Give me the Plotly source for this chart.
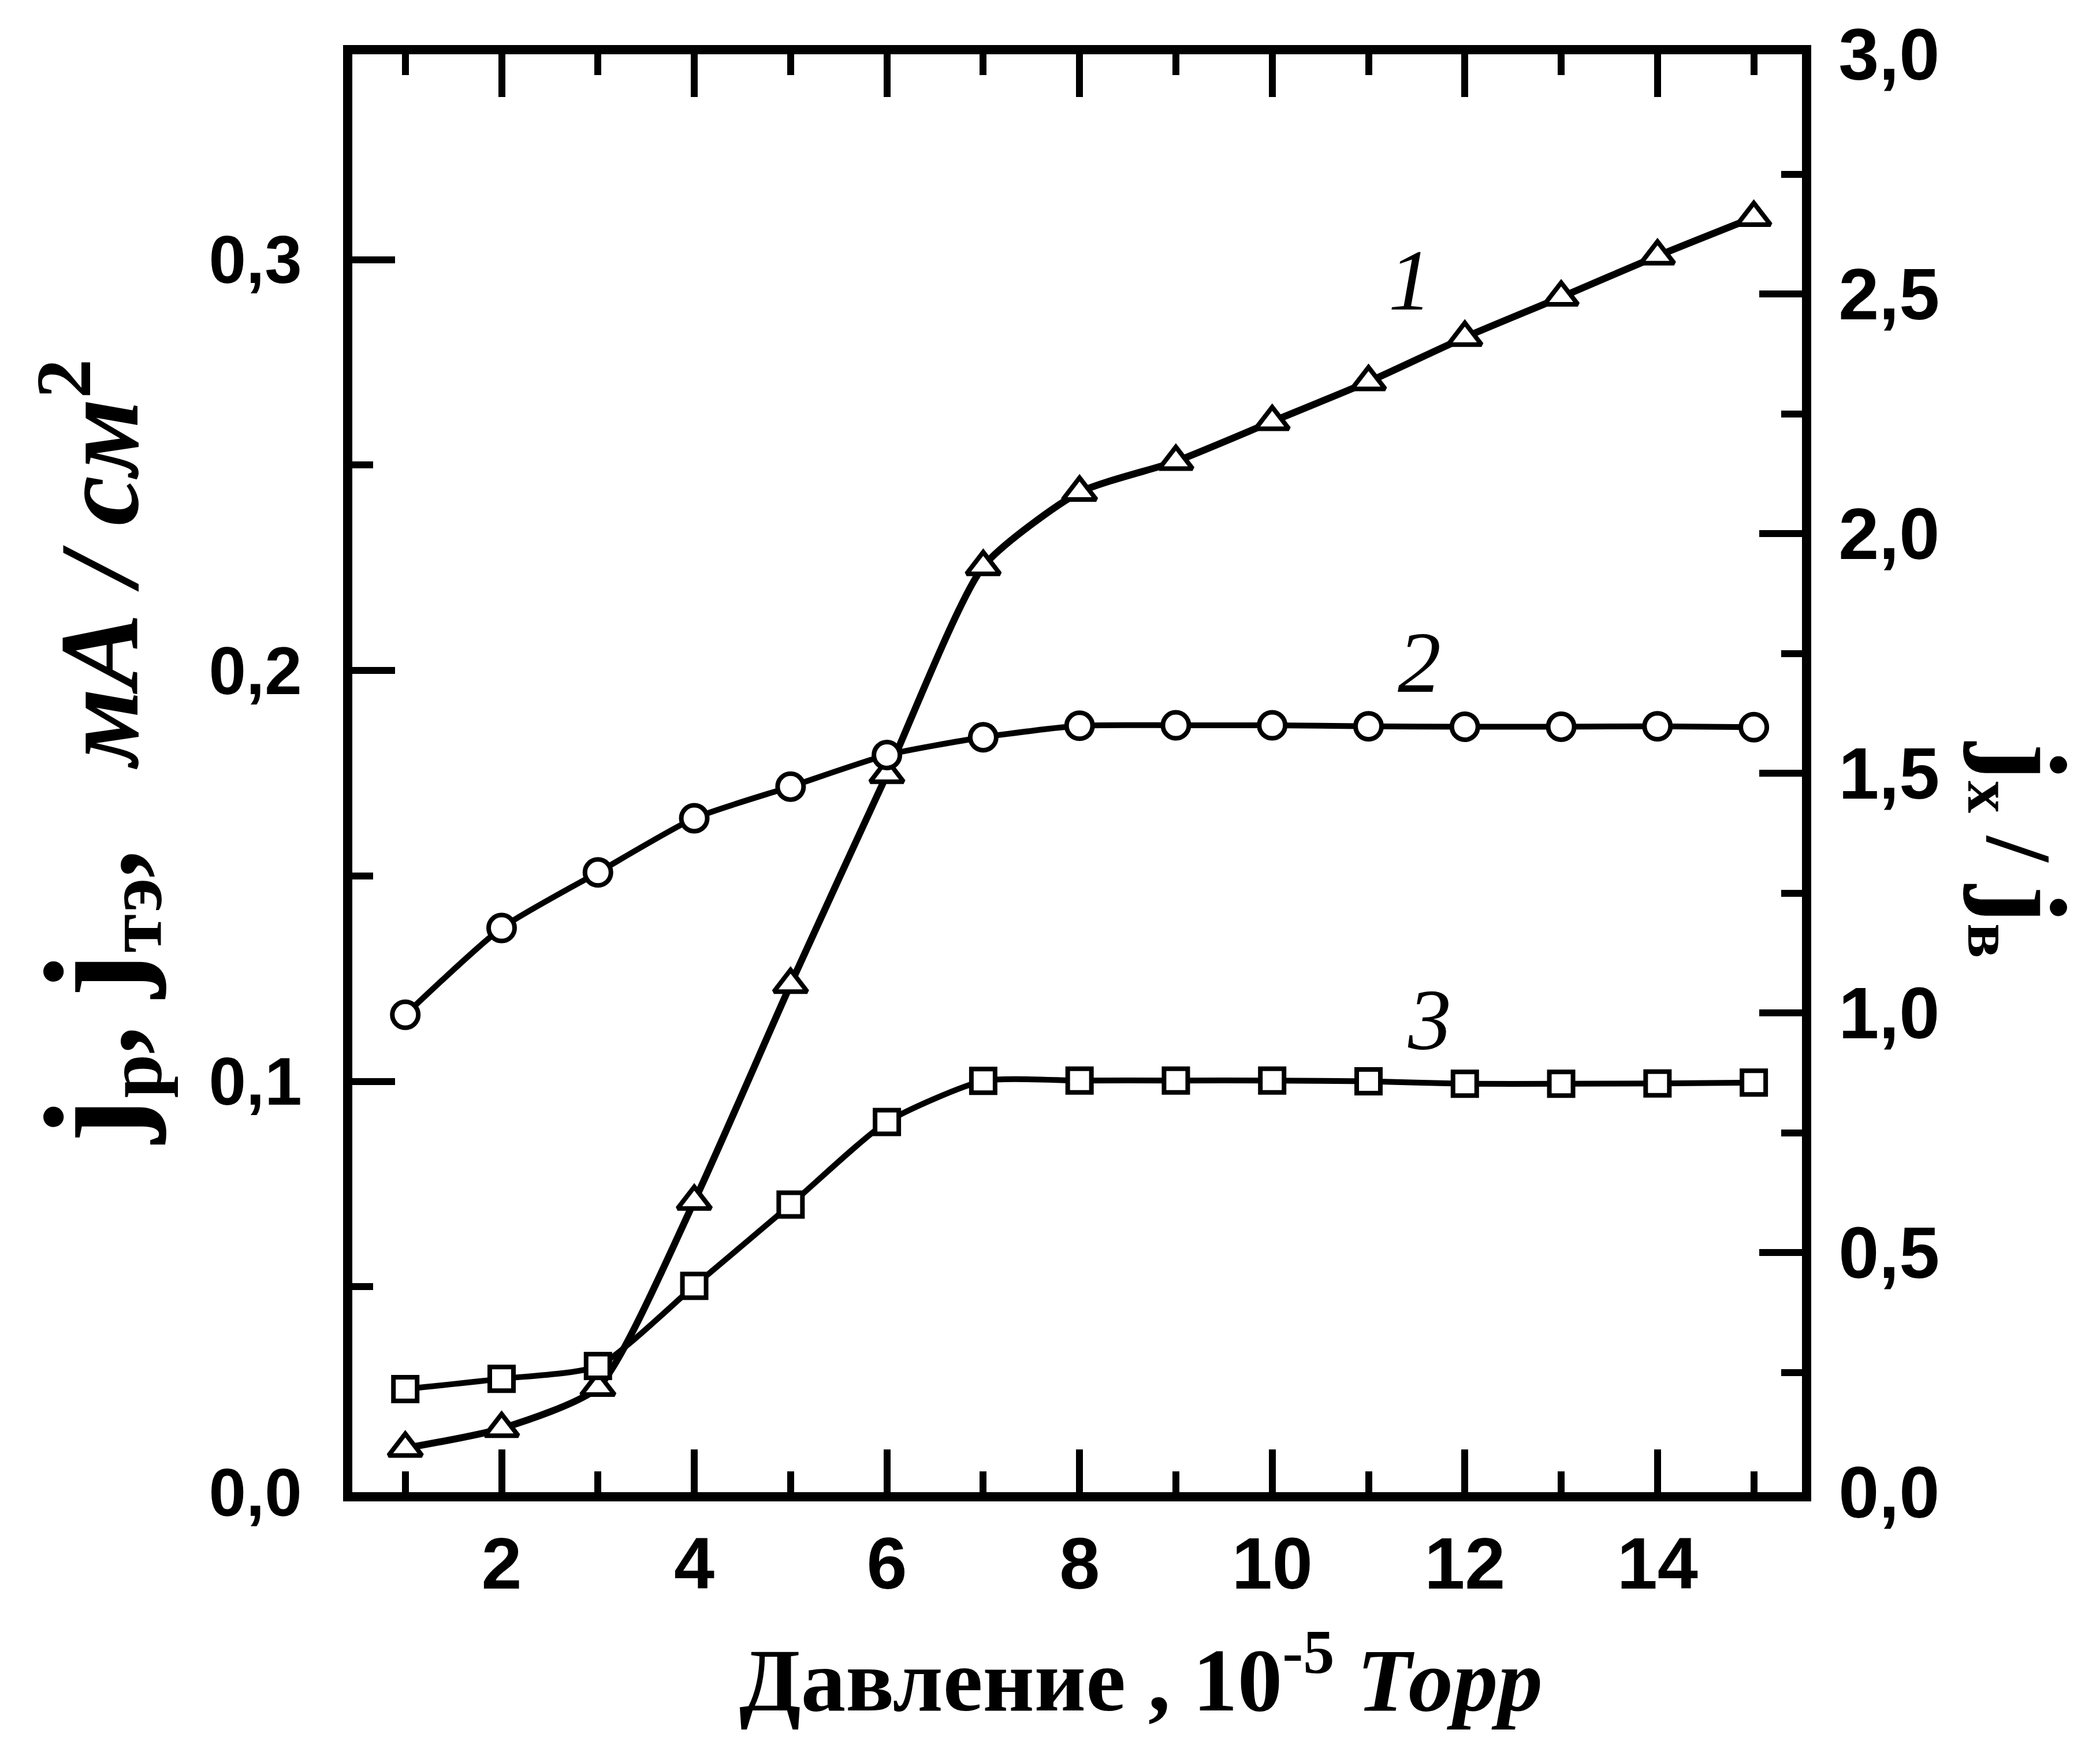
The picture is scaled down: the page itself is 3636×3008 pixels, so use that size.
import plotly.graph_objects as go

# ---- data (pressure in 10^-5 Torr) ----
pressure = [1, 2, 3, 4, 5, 6, 7, 8, 9, 10, 11, 12, 13, 14, 15]

# curve 1 (triangles), left axis, mA/cm^2
curve1_j = [0.0107, 0.0155, 0.0255, 0.0708, 0.1236, 0.1747, 0.2253, 0.2434,
            0.2509, 0.2606, 0.2703, 0.2811, 0.2909, 0.3009, 0.3103]

# curve 2 (circles), right axis, ratio
curve2_ratio = [0.996, 1.177, 1.293, 1.406, 1.472, 1.538, 1.575, 1.599,
                1.600, 1.600, 1.598, 1.597, 1.597, 1.598, 1.596]

# curve 3 (squares), left axis, mA/cm^2
curve3_j = [0.0251, 0.0276, 0.0307, 0.0502, 0.0700, 0.0901, 0.1001, 0.1002,
            0.1002, 0.1002, 0.1000, 0.0994, 0.0994, 0.0995, 0.0997]

curve_labels = ["1", "2", "3"]
label_x = [11.43, 11.53, 11.63]
label_y = [0.295, 0.202, 0.115]

x_range = [0.45, 15.5]
y_left_range = [0, 0.35]
y_right_range = [0, 3.0]

BLACK = "black"
LINE_W = 16
TICK_W = 12
MAJ_LEN = 74
MIN_LEN = 36
left_font = dict(family="Liberation Sans", size=116, color=BLACK, weight="bold")
tick_font = dict(family="Liberation Sans", size=126, color=BLACK, weight="bold")

fig = go.Figure()

fig.add_trace(go.Scatter(
    x=pressure, y=curve1_j, mode="lines+markers", yaxis="y",
    line=dict(color=BLACK, width=12, shape="spline", smoothing=0.6),
    marker=dict(symbol="triangle-up", size=50, color="white",
                line=dict(color=BLACK, width=8)),
))
fig.add_trace(go.Scatter(
    x=pressure, y=curve2_ratio, mode="lines+markers", yaxis="y2",
    line=dict(color=BLACK, width=10, shape="spline", smoothing=0.6),
    marker=dict(symbol="circle", size=45, color="white",
                line=dict(color=BLACK, width=8)),
))
fig.add_trace(go.Scatter(
    x=pressure, y=curve3_j, mode="lines+markers", yaxis="y",
    line=dict(color=BLACK, width=10, shape="spline", smoothing=0.6),
    marker=dict(symbol="square", size=41, color="white",
                line=dict(color=BLACK, width=8)),
))

for t, lx, ly in zip(curve_labels, label_x, label_y):
    fig.add_annotation(x=lx, y=ly, xref="x", yref="y", text=t, showarrow=False,
                       font=dict(family="Liberation Serif", size=150, color=BLACK, style="italic"))

# axis titles as annotations
fig.add_annotation(
    xref="paper", yref="paper", x=0.544, y=-0.126, showarrow=False,
    xanchor="center", yanchor="middle",
    text="<b>Давление , 10</b><sup><b>-5</b></sup> <b><i>Торр</i></b>",
    font=dict(family="Liberation Serif", size=155, color=BLACK),
)
fig.add_annotation(
    xref="paper", yref="paper", x=-0.176, y=0.515, showarrow=False,
    xanchor="center", yanchor="middle", textangle=-90,
    text=('<b><span style="font-size:235px">j</span></b><sub><b>p</b></sub><b>,</b> '
          '<b><span style="font-size:235px">j</span></b><sub><b>тэ</b></sub><b>,</b>   '
          '<b><i>мА / см</i></b><sup><b>2</b></sup>'),
    font=dict(family="Liberation Serif", size=195, color=BLACK),
)
fig.add_annotation(
    xref="paper", yref="paper", x=1.152, y=0.447, showarrow=False,
    xanchor="center", yanchor="middle", textangle=90,
    text=('<b><span style="font-size:200px">j</span></b><sub><b>x</b></sub><b> / </b>'
          '<b><span style="font-size:200px">j</span></b><sub><b>в</b></sub>'),
    font=dict(family="Liberation Serif", size=160, color=BLACK),
)

fig.update_layout(
    width=3636, height=3008,
    margin=dict(l=602, r=524, t=86, b=432, autoexpand=False),
    paper_bgcolor="white", plot_bgcolor="white",
    showlegend=False, separators=", ",
    xaxis=dict(
        range=x_range, showline=True, linewidth=LINE_W, linecolor=BLACK,
        mirror="ticks", ticks="inside", ticklen=MAJ_LEN, tickwidth=TICK_W, tickcolor=BLACK,
        tick0=0, dtick=2,
        minor=dict(ticks="inside", ticklen=MIN_LEN, tickwidth=TICK_W, tickcolor=BLACK,
                   tick0=1, dtick=2, showgrid=False),
        showgrid=False, zeroline=False, tickfont=tick_font, ticklabelstandoff=0,
    ),
    yaxis=dict(
        range=y_left_range, showline=True, linewidth=LINE_W, linecolor=BLACK,
        mirror=False, ticks="inside", ticklen=MAJ_LEN, tickwidth=TICK_W, tickcolor=BLACK,
        tick0=0, dtick=0.1, tickformat=".1f",
        minor=dict(ticks="inside", ticklen=MIN_LEN, tickwidth=TICK_W, tickcolor=BLACK,
                   tick0=0, dtick=0.05, showgrid=False),
        showgrid=False, zeroline=False, tickfont=left_font, ticklabelstandoff=48,
    ),
    yaxis2=dict(
        range=y_right_range, overlaying="y", side="right",
        showline=True, linewidth=LINE_W, linecolor=BLACK,
        ticks="inside", ticklen=MAJ_LEN, tickwidth=TICK_W, tickcolor=BLACK,
        tick0=0, dtick=0.5, tickformat=".1f",
        minor=dict(ticks="inside", ticklen=MIN_LEN, tickwidth=TICK_W, tickcolor=BLACK,
                   tick0=0, dtick=0.25, showgrid=False),
        showgrid=False, zeroline=False, tickfont=tick_font, ticklabelstandoff=22,
    ),
)

fig.write_html("out.html")
